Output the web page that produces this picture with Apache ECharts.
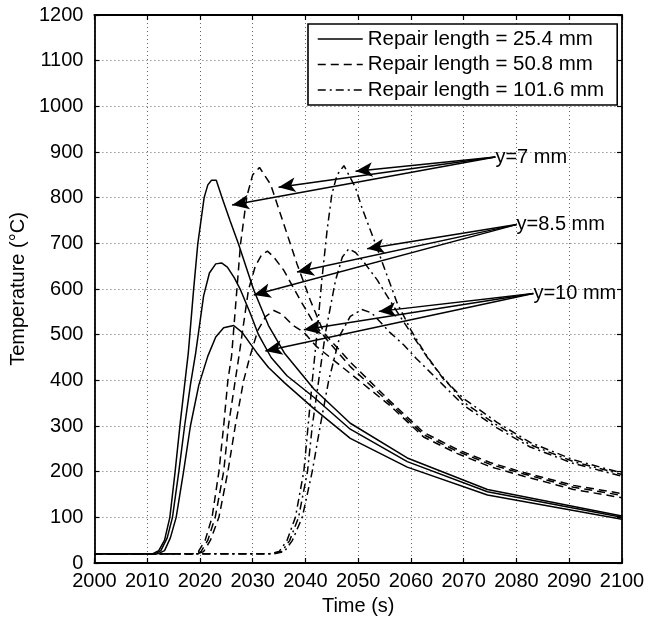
<!DOCTYPE html>
<html><head><meta charset="utf-8">
<script src="https://cdn.jsdelivr.net/npm/echarts@6/dist/echarts.min.js"></script>
<style>html,body{margin:0;padding:0;background:#fff}#c{width:658px;height:621px}</style>
</head><body><div id="c"></div>
<script>
const FONT = "'Liberation Sans', Arial, Helvetica, sans-serif";
const INK = '#000';

// Repair length = 25.4 mm (solid)
const tS7 = [2000, 2011, 2012.2, 2013.3, 2014.3, 2015.3, 2016.3, 2017.1, 2017.8, 2018.8, 2019.6, 2020.8, 2021.5, 2022.2, 2023.1, 2024.2, 2025.7, 2027.3, 2030.2, 2033, 2036, 2041.6, 2048.5, 2059.3, 2074.5, 2100];
const vS7 = [20, 20, 27, 50, 100, 200, 310, 390, 460, 598, 699, 800, 828, 838, 838, 800, 750, 699, 598, 520, 460, 381, 306, 230, 161, 103];
const tS85 = [2000, 2011.5, 2012.6, 2013.8, 2014.8, 2016.0, 2017.1, 2018.2, 2019.2, 2020.7, 2021.8, 2023.0, 2024.1, 2025.2, 2026.5, 2027.7, 2029.5, 2031.1, 2033.5, 2036.5, 2041.6, 2048.5, 2059.3, 2074.5, 2100];
const vS85 = [20, 20, 27, 55, 100, 200, 300, 390, 460, 585, 635, 655, 657, 648, 625, 598, 548, 500, 450, 410, 363, 293, 222, 156, 100];
const tS10 = [2000, 2012, 2013.3, 2014.4, 2015.5, 2016.9, 2018.2, 2019.8, 2021.5, 2023, 2024.5, 2026.4, 2028, 2030.8, 2033, 2036, 2041.6, 2048.5, 2059.3, 2074.5, 2100];
const vS10 = [20, 20, 27, 55, 100, 200, 300, 390, 453, 495, 515, 520, 505, 460, 428, 395, 338, 273, 210, 149, 96];

// Repair length = 50.8 mm (dashed)
const tD7 = [2000, 2018.5, 2019.7, 2021, 2022.3, 2023.6, 2024.5, 2025.3, 2026, 2027, 2027.7, 2028.9, 2030, 2031.3, 2033.4, 2035.9, 2038.4, 2040.9, 2043.5, 2048.5, 2056, 2062.4, 2068.7, 2075, 2081.4, 2090.8, 2100];
const vD7 = [20, 20, 25, 50, 100, 200, 300, 400, 453, 598, 699, 803, 850, 866, 829, 742, 655, 576, 504, 440, 355, 286, 249, 220, 198, 170, 152];
const tD85 = [2000, 2019, 2020.2, 2021.5, 2022.9, 2024.5, 2025.4, 2026.7, 2027.4, 2029.2, 2030.5, 2031.7, 2032.8, 2034, 2035.9, 2039, 2041.6, 2044, 2048.5, 2056, 2062.4, 2068.7, 2075, 2081.4, 2090.8, 2100];
const vD85 = [20, 20, 25, 50, 100, 200, 300, 400, 453, 598, 650, 675, 683, 670, 641, 576, 525, 490, 430, 350, 281, 245, 216, 195, 166, 148];
const tD10 = [2000, 2019.5, 2020.7, 2022, 2023.6, 2025.3, 2026.7, 2028.3, 2029.5, 2031, 2032.5, 2034, 2035.5, 2037.7, 2039.7, 2042, 2048.5, 2056, 2062.4, 2068.7, 2075, 2081.4, 2090.8, 2100];
const vD10 = [20, 20, 25, 50, 100, 200, 300, 400, 453, 510, 540, 553, 545, 520, 505, 475, 415, 345, 276, 240, 211, 190, 161, 143];

// Repair length = 101.6 mm (dash-dot)
const tDD7 = [2000, 2033, 2035, 2036.5, 2038.1, 2039.7, 2040.5, 2041.3, 2042.2, 2043.1, 2044.1, 2045, 2046, 2047.3, 2049.5, 2050.7, 2052.6, 2054.2, 2055.8, 2057.4, 2060, 2062.5, 2066, 2070, 2076.3, 2082.6, 2090.8, 2100];
const vDD7 = [20, 20, 25, 49, 100, 201, 300, 399, 504, 619, 728, 807, 850, 870, 822, 778, 720, 670, 619, 569, 510, 462, 405, 360, 308, 264, 226, 197];
const tDD85 = [2000, 2033.5, 2035.5, 2037, 2038.7, 2040.4, 2041.3, 2042.5, 2043.8, 2045.7, 2047, 2048.2, 2049.5, 2051, 2053.6, 2056, 2058.5, 2060.5, 2063.7, 2070, 2076.3, 2082.6, 2090.8, 2100];
const vDD85 = [20, 20, 25, 49, 100, 201, 300, 399, 504, 619, 670, 688, 680, 660, 620, 575, 530, 495, 440, 352, 302, 259, 222, 194];
const tDD10 = [2000, 2034, 2036, 2037.5, 2039.4, 2041.3, 2042.8, 2044.4, 2046.6, 2048.5, 2050.7, 2052.5, 2054, 2056, 2058.6, 2061, 2064.5, 2070, 2076.3, 2082.6, 2090.8, 2100];
const vDD10 = [20, 20, 25, 49, 100, 201, 300, 399, 500, 540, 555, 548, 530, 505, 478, 448, 408, 345, 296, 254, 218, 190];

const legendNames = ['Repair length = 25.4 mm', 'Repair length = 50.8 mm', 'Repair length = 101.6 mm'];

// Annotation labels and arrow targets
const labelNames = ['y=7 mm', 'y=8.5 mm', 'y=10 mm'];
const labelPos = [[2076.0, 889], [2080.0, 741], [2083.2, 590]];
const arrowTips = [
  [[2026.1, 784], [2034.9, 823], [2049.5, 858]],
  [[2030.2, 587], [2038.4, 637], [2051.7, 688]],
  [[2032.4, 464], [2039.7, 511], [2053.9, 551]]
];

const zip = (t, v) => t.map((x, i) => [x, v[i]]);
const DASH = [8, 5];
const DASHDOT = [8, 4, 2, 4];

function curve(name, t, v, type) {
  return {
    type: 'line', name: name, data: zip(t, v), symbol: 'none', showSymbol: false, smooth: false,
    lineStyle: { color: INK, width: 1.5, type: type }, itemStyle: { color: INK },
    silent: true, z: 3
  };
}

const series = [
  curve(legendNames[0], tS7, vS7, 'solid'),
  curve(legendNames[0], tS85, vS85, 'solid'),
  curve(legendNames[0], tS10, vS10, 'solid'),
  curve(legendNames[1], tD7, vD7, DASH),
  curve(legendNames[1], tD85, vD85, DASH),
  curve(legendNames[1], tD10, vD10, DASH),
  curve(legendNames[2], tDD7, vDD7, DASHDOT),
  curve(legendNames[2], tDD85, vDD85, DASHDOT),
  curve(legendNames[2], tDD10, vDD10, DASHDOT)
];

const arrowData = [];
labelPos.forEach((p, i) => {
  arrowTips[i].forEach(tip => {
    arrowData.push([
      { coord: p, symbol: 'none' },
      { coord: tip, symbol: 'arrow', symbolSize: [11, 17] }
    ]);
  });
});

series.push({
  type: 'scatter', name: 'annot',
  data: labelPos.map((p, i) => ({ value: p, name: labelNames[i] })),
  symbolSize: 0.1, silent: true, z: 6,
  itemStyle: { color: INK },
  label: { show: true, position: 'right', distance: 0, formatter: '{b}', color: '#000', opacity: 1, textBorderWidth: 0, fontSize: 20, fontFamily: FONT },
  emphasis: { disabled: true },
  markLine: {
    silent: true, animation: false, precision: 4, z: 5,
    lineStyle: { color: INK, width: 1.5, type: 'solid', opacity: 1 },
    itemStyle: { color: INK },
    label: { show: false },
    emphasis: { disabled: true },
    data: arrowData
  }
});

const axisCommon = {
  type: 'value',
  axisLine: { show: true, onZero: false, lineStyle: { color: INK, width: 1.8 } },
  axisTick: { show: true, inside: true, length: 5, lineStyle: { color: INK, width: 1.2 } }
};
const plain = v => String(v);

const chart = echarts.init(document.getElementById('c'), null, { renderer: 'canvas' });
chart.setOption({
  animation: false,
  backgroundColor: '#fff',
  grid: { left: 94, right: 36, top: 15, bottom: 52, containLabel: false },
  legend: {
    data: legendNames,
    left: 308, top: 24, orient: 'vertical',
    itemWidth: 45, itemHeight: 14, itemGap: 3.5,
    padding: [4, 13, 4, 9],
    borderColor: INK, borderWidth: 1.6, backgroundColor: '#fff',
    itemStyle: { opacity: 0, borderWidth: 0 },
    lineStyle: { width: 1.5, color: INK },
    textStyle: { fontSize: 20.5, fontFamily: FONT, color: '#000', lineHeight: 22 },
    selectedMode: false
  },
  xAxis: [
    Object.assign({}, axisCommon, {
      min: 2000, max: 2100, interval: 10, position: 'bottom',
      axisLabel: { fontSize: 20, fontFamily: FONT, color: '#000', margin: 8, formatter: plain },
      splitLine: { show: true, lineStyle: { color: '#666', width: 1, type: [1, 3] } },
      name: 'Time (s)', nameLocation: 'middle', nameGap: 33,
      nameTextStyle: { fontSize: 20, fontFamily: FONT, color: '#000' }
    }),
    Object.assign({}, axisCommon, {
      min: 2000, max: 2100, interval: 10, position: 'top',
      axisLabel: { show: false }, splitLine: { show: false }
    })
  ],
  yAxis: [
    Object.assign({}, axisCommon, {
      min: 0, max: 1200, interval: 100, position: 'left',
      axisLabel: { fontSize: 20, fontFamily: FONT, color: '#000', margin: 11, formatter: plain },
      splitLine: { show: true, lineStyle: { color: '#666', width: 1, type: [1, 3] } },
      name: 'Temperature (°C)', nameLocation: 'middle', nameGap: 48,
      nameTextStyle: { fontSize: 20, fontFamily: FONT, color: '#000' }
    }),
    Object.assign({}, axisCommon, {
      min: 0, max: 1200, interval: 100, position: 'right',
      axisLabel: { show: false }, splitLine: { show: false }
    })
  ],
  series: series
});
</script>
</body></html>
